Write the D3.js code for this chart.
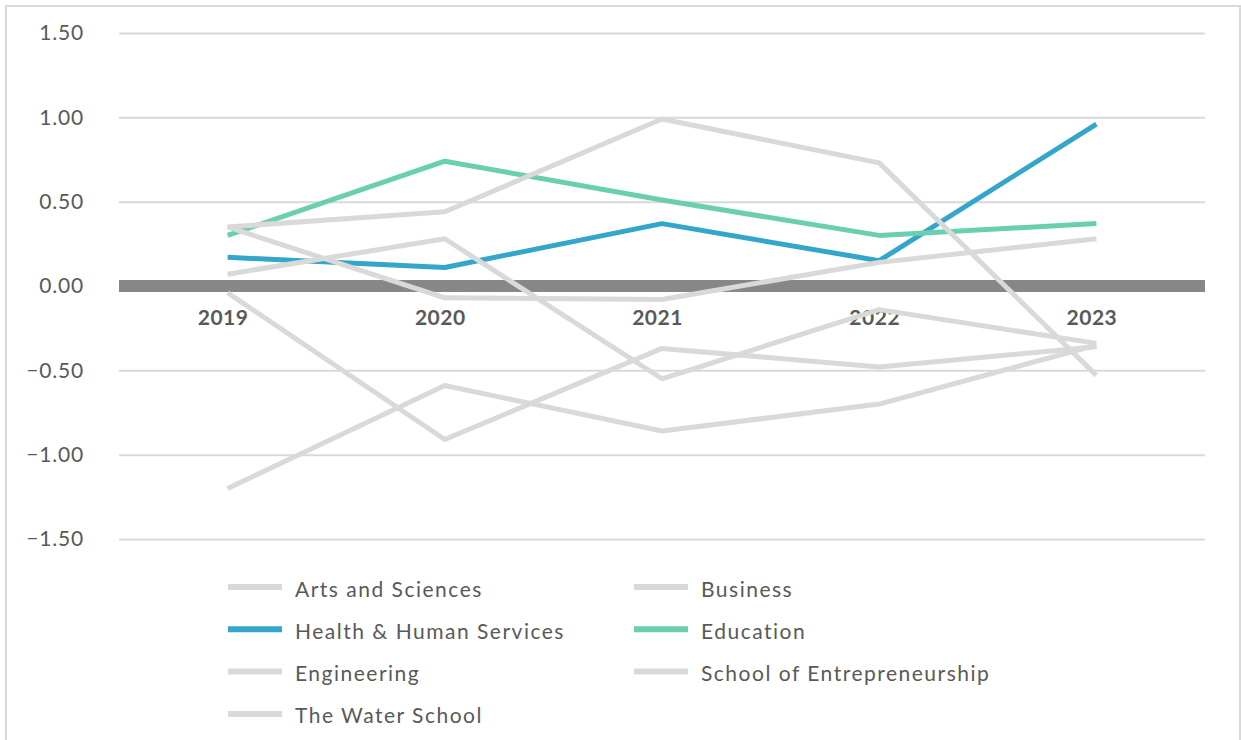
<!DOCTYPE html>
<html>
<head>
<meta charset="utf-8">
<script src="https://cdn.jsdelivr.net/npm/d3@7"></script>
<style>
  html, body { margin: 0; padding: 0; background: #fff; }
  svg { display: block; }
  text { font-family: Lato, "Open Sans", sans-serif; fill: #595959; }
</style>
</head>
<body>
<svg id="chart" width="1241" height="740"></svg>
<script>
// Year categories along the x axis
const years = ["2019", "2020", "2021", "2022", "2023"];

// Year-over-year values per college
const artsAndSciences      = [-0.04, -0.91, -0.37, -0.48, -0.36];
const business             = [-1.20, -0.59, -0.86, -0.70, -0.35];
const healthHumanServices  = [0.17, 0.11, 0.37, 0.15, 0.96];
const education            = [0.30, 0.74, 0.51, 0.30, 0.37];
const engineering          = [0.35, 0.44, 0.99, 0.73, -0.53];
const entrepreneurship     = [0.07, 0.28, -0.55, -0.14, -0.34];
const waterSchool          = [0.35, -0.07, -0.08, 0.14, 0.28];

const seriesNames = [
  "Arts and Sciences", "Business", "Health & Human Services", "Education",
  "Engineering", "School of Entrepreneurship", "The Water School"
];
const seriesValues = [
  artsAndSciences, business, healthHumanServices, education,
  engineering, entrepreneurship, waterSchool
];
const seriesColors = ["#d9d9d9", "#d9d9d9", "#33a6c9", "#69cfae", "#d9d9d9", "#d9d9d9", "#d9d9d9"];

// Value axis tick labels
const yTicks = [-1.5, -1.0, -0.5, 0, 0.5, 1.0, 1.5];

const svg = d3.select("#chart");
const W = 1241, H = 740;

// Outer frame
svg.append("rect")
  .attr("x", 6).attr("y", 6)
  .attr("width", W - 7).attr("height", H + 10)
  .attr("fill", "#fff")
  .attr("stroke", "#d9d9d9").attr("stroke-width", 2);

const plot = { left: 119, right: 1205, top: 33, bottom: 539 };

const x = d3.scalePoint().domain(years).range([plot.left, plot.right]).padding(0.5);
const y = d3.scaleLinear().domain([-1.5, 1.5]).range([plot.bottom, plot.top]);

// Horizontal gridlines and value labels
const yAxis = d3.axisLeft(y)
  .tickValues(yTicks)
  .tickSize(-(plot.right - plot.left))
  .tickPadding(35)
  .tickFormat(d3.format(".2f"));

const gy = svg.append("g")
  .attr("transform", `translate(${plot.left},0)`)
  .call(yAxis);
gy.select(".domain").remove();
gy.selectAll(".tick line")
  .attr("stroke", "#d9d9d9").attr("stroke-width", 2);
gy.selectAll(".tick text")
  .attr("font-size", 21)
  .attr("letter-spacing", 0.8)
  .attr("fill", "#595959")
  .style("font-family", "Lato, sans-serif");

// Heavy zero baseline
svg.append("line")
  .attr("x1", plot.left).attr("x2", plot.right)
  .attr("y1", y(0)).attr("y2", y(0))
  .attr("stroke", "#878787").attr("stroke-width", 12);

// Category labels just under the baseline
const xAxis = d3.axisBottom(x).tickSize(0).tickPadding(0);
const gx = svg.append("g")
  .attr("transform", `translate(0,${y(0)})`)
  .call(xAxis);
gx.select(".domain").remove();
gx.selectAll(".tick text")
  .attr("font-size", 21)
  .attr("font-weight", "bold")
  .attr("letter-spacing", 0.5)
  .attr("fill", "#595959")
  .attr("dx", -5)
  .attr("dy", 39)
  .style("font-family", "Lato, sans-serif");

// Series lines, drawn in legend order
const line = d3.line()
  .x((d, i) => x(years[i]))
  .y(d => y(d));

svg.append("g")
  .selectAll("path")
  .data(seriesValues)
  .join("path")
  .attr("d", d => line(d))
  .attr("fill", "none")
  .attr("stroke", (d, i) => seriesColors[i])
  .attr("stroke-width", 5)
  .attr("stroke-linejoin", "round")
  .attr("stroke-linecap", "butt");

// Legend in two columns
const legendCols = [228, 634];
const legendTop = 587, legendRow = 42.3;
const legend = svg.append("g")
  .selectAll("g")
  .data(seriesNames)
  .join("g")
  .attr("transform", (d, i) =>
    `translate(${legendCols[i % 2]},${legendTop + Math.floor(i / 2) * legendRow})`);

legend.append("line")
  .attr("x1", 0).attr("x2", 54)
  .attr("y1", 0).attr("y2", 0)
  .attr("stroke", (d, i) => seriesColors[i])
  .attr("stroke-width", 6);

legend.append("text")
  .attr("x", 67)
  .attr("y", 9.5)
  .attr("font-size", 21)
  .attr("letter-spacing", 1.5)
  .text(d => d);
</script>
</body>
</html>
